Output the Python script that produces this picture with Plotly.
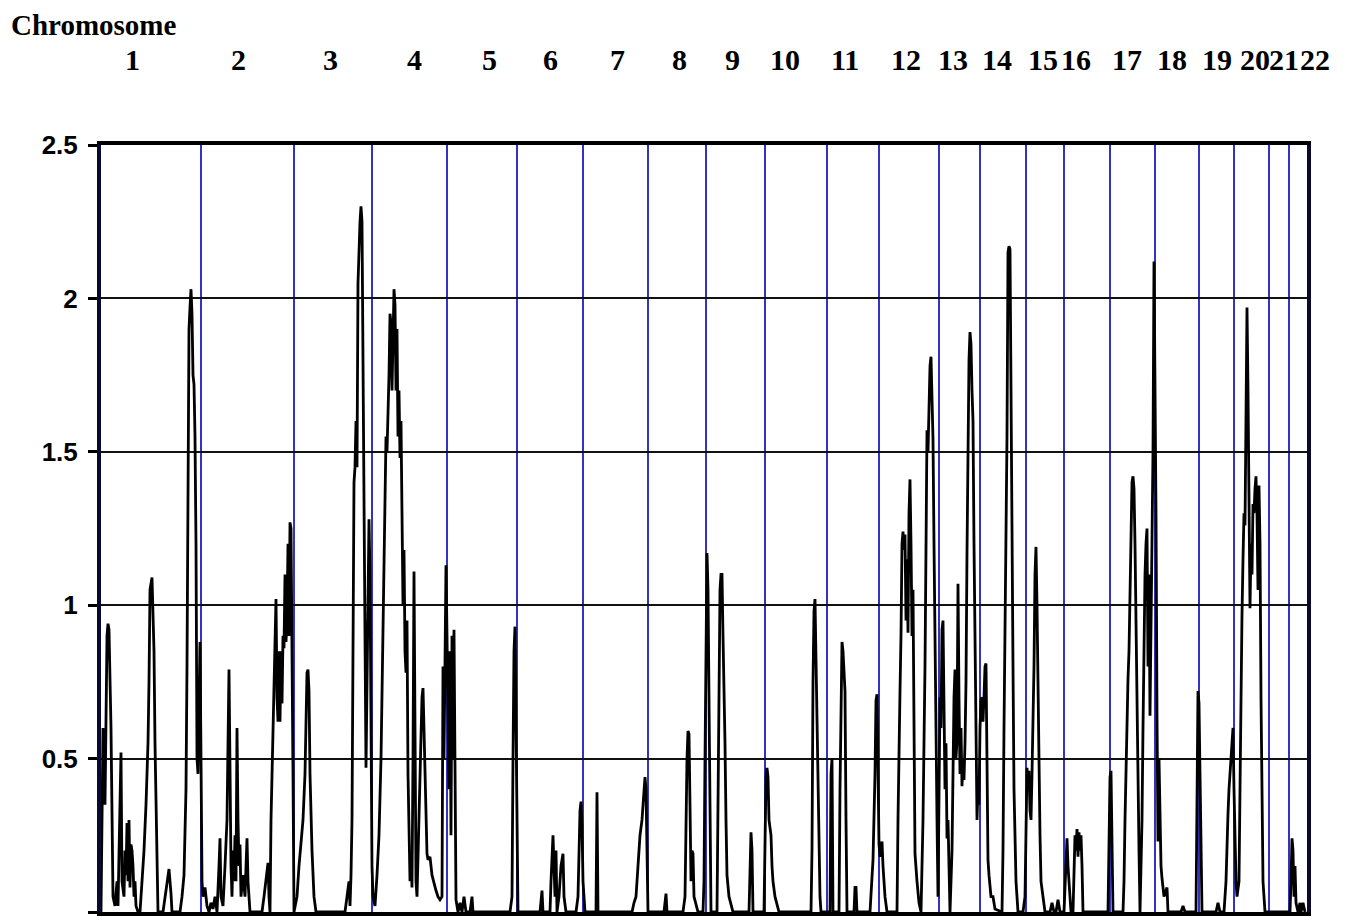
import plotly.graph_objects as go

# ---------------- data ----------------
chromosomes = [str(i) for i in range(1, 23)]
# label centres along the genome axis (cM-like units)
label_pos = [31, 137, 229, 313, 388, 449, 516, 578, 631, 684, 744, 805, 852, 896,
             942, 975, 1026, 1071, 1116, 1154, 1183, 1214]
# chromosome boundaries (blue lines)
boundaries = [100, 193, 271, 345.5, 416, 482, 547, 605, 664, 726, 777.5, 837.5,
              879, 925, 963, 1009, 1054, 1098, 1133, 1168, 1187.5]
genome_end = 1206

position = [
    # chr1
    0, 1, 2, 4, 6, 7, 8, 10, 11, 12, 14, 16, 17, 19, 20, 21, 23, 24, 25, 26,
    27, 28, 29, 30, 31, 32, 33, 34, 35, 37, 39, 41, 43, 45, 47, 48, 49, 51, 52, 53,
    54, 55, 56, 57, 62, 64, 66, 68, 70, 71, 79, 81, 83, 85, 86, 87, 88, 89, 90, 91,
    92, 93, 94, 95, 96, 97, 98, 99, 100,
    # chr2
    101, 102, 104, 106, 108, 110, 112, 114, 116, 118, 119, 120, 122, 124, 126, 128, 129, 130, 131, 132,
    133, 134, 135, 136, 137, 138, 139, 140, 142, 144, 146, 147, 149, 161, 163, 165, 167, 168, 169, 170,
    172, 174, 175, 176, 177, 178, 179, 180, 181, 182, 183, 184, 185, 186, 187, 188, 189, 190, 191, 192,
    193,
    # chr3
    196, 198, 200, 202, 204, 205, 206, 207, 208, 209, 211, 213, 215, 244, 246, 248, 249, 250, 251, 252,
    253, 254, 255, 256, 257, 259, 260, 261, 262, 263, 264, 265, 266, 267, 268, 269, 270, 271,
    # chr4
    272, 274, 276, 278, 280, 282, 284, 285, 286, 287, 288, 289, 290, 291, 292, 293, 294, 295, 296, 297,
    298, 299, 300, 301, 302, 303, 304, 305, 306, 307, 308, 309, 310, 311, 312, 313, 314, 315, 316, 317,
    318, 319, 320, 321, 322, 323, 324, 325, 326, 327, 329, 331, 333, 335, 337, 339, 341, 342, 343, 344,
    345,
    # chr5
    346, 347, 348, 349, 350, 351, 352, 353, 354, 355, 357, 359, 361, 363, 365, 369, 371, 372, 409, 411,
    412, 413, 414, 415, 416,
    # chr6
    417, 439, 441, 442, 449, 450, 451, 452, 453, 454, 455, 456, 458, 460, 462, 463, 465, 475, 477, 478,
    479, 480, 481, 482,
    # chr7
    483, 484, 495, 496, 497, 531, 533, 535, 537, 539, 541, 543, 544, 545, 546, 547,
    # chr8
    563, 565, 566, 582, 584, 585, 586, 587, 588, 589, 590, 591, 592, 593, 595, 597, 602, 603, 604, 605,
    # chr9
    606, 607, 608, 609, 610, 616, 617, 618, 619, 620, 621, 622, 623, 624, 625, 626, 628, 630, 632, 648,
    649, 650, 651, 652, 663, 664,
    # chr10
    665, 666, 667, 668, 670, 671, 672, 674, 676, 678, 710, 711, 712, 713, 714, 715, 716, 717, 718, 719,
    720,
    # chr11
    729, 730, 731, 732, 738, 739, 740, 741, 742, 743, 744, 745, 746, 753, 754, 755, 756, 769, 771, 772,
    774, 775, 776, 777,
    # chr12
    778, 779, 780, 781, 782, 784, 786, 796, 797, 798, 799, 800, 801, 802, 803, 804, 805, 806, 807, 808,
    809, 810, 811, 812, 813, 814, 816, 818, 820, 822, 824, 825, 826, 827, 828, 829, 830, 831, 832, 833,
    834, 835, 836, 837,
    # chr13
    838, 839, 840, 841, 842, 843, 844, 845, 846, 847, 848, 849, 851, 852, 853, 854, 855, 856, 857, 858,
    859, 860, 861, 862, 863, 864, 865, 866, 867, 868, 869, 870, 871, 872, 873, 874, 875, 876, 877, 878,
    879,
    # chr14
    880, 881, 882, 883, 884, 885, 886, 887, 888, 890, 892, 894, 901, 902, 903, 904, 905, 906, 907, 908,
    909, 910, 911, 912, 913, 914, 915, 917, 922, 924, 925,
    # chr15
    926, 927, 928, 929, 930, 931, 932, 933, 934, 935, 936, 937, 938, 939, 940, 942, 944, 949, 951, 953,
    955, 957, 959, 963,
    # chr16
    964, 965, 966, 967, 968, 969, 970, 972, 973, 974, 975, 976, 977, 978, 979, 980, 981, 982, 1007, 1008,
    1009,
    # chr17
    1010, 1011, 1012, 1022, 1023, 1024, 1025, 1026, 1027, 1028, 1029, 1030, 1031, 1032, 1033, 1034, 1035, 1036, 1037, 1038,
    1039, 1041, 1042, 1043, 1044, 1045, 1046, 1047, 1048, 1049, 1050, 1051, 1052, 1053, 1054,
    # chr18
    1055, 1056, 1057, 1058, 1059, 1060, 1061, 1063, 1065, 1066, 1067, 1080, 1082, 1084, 1095, 1096, 1097, 1098,
    # chr19
    1099, 1100, 1101, 1115, 1117, 1119, 1123, 1125, 1126, 1127, 1128, 1129, 1130, 1131, 1132, 1133,
    # chr20
    1134, 1135, 1136, 1138, 1139, 1140, 1141, 1142, 1143, 1144, 1145, 1146, 1147, 1148, 1149, 1150, 1151, 1152, 1153, 1154,
    1155, 1156, 1157, 1158, 1159, 1160, 1161, 1162, 1164,
    # chr21
    1175,
    # chr22
    1189, 1190, 1191, 1192, 1193, 1194, 1195, 1197, 1199, 1200, 1202, 1204,
]

lod = [
    # chr1
    0.0, 0.3, 0.6, 0.35, 0.9, 0.94, 0.92, 0.6, 0.3, 0.05, 0.02, 0.1, 0.02, 0.3, 0.52, 0.1, 0.05, 0.2, 0.12, 0.29,
    0.1, 0.3, 0.08, 0.22, 0.2, 0.15, 0.05, 0.1, 0.02, 0.0, 0.0, 0.1, 0.2, 0.35, 0.55, 0.75, 1.05, 1.09, 1.0, 0.85,
    0.55, 0.35, 0.15, 0.0, 0.0, 0.05, 0.1, 0.14, 0.06, 0.0, 0.0, 0.05, 0.12, 0.4, 0.8, 1.3, 1.9, 1.97, 2.03, 1.95,
    1.75, 1.72, 1.55, 1.2, 0.5, 0.45, 0.7, 0.88, 0.5,
    # chr2
    0.1, 0.05, 0.08, 0.02, 0.0, 0.03, 0.01, 0.05, 0.0, 0.15, 0.24, 0.05, 0.02, 0.15, 0.3, 0.79, 0.3, 0.15, 0.05, 0.2,
    0.1, 0.25, 0.1, 0.6, 0.3, 0.15, 0.22, 0.05, 0.12, 0.05, 0.24, 0.1, 0.0, 0.0, 0.05, 0.1, 0.16, 0.05, 0.0, 0.3,
    0.62, 0.95, 1.02, 0.7, 0.62, 0.85, 0.62, 0.85, 0.68, 0.9, 0.86, 1.1, 0.88, 0.95, 1.2, 0.9, 1.27, 1.25, 0.92, 0.45,
    0.0,
    # chr3
    0.05, 0.15, 0.22, 0.3, 0.45, 0.6, 0.78, 0.79, 0.72, 0.45, 0.2, 0.05, 0.0, 0.0, 0.05, 0.1, 0.02, 0.12, 0.3, 0.75,
    1.4, 1.45, 1.6, 1.45, 2.05, 2.25, 2.3, 2.25, 1.7, 1.2, 0.9, 0.47, 0.8, 1.05, 1.28, 1.1, 0.5, 0.15,
    # chr4
    0.05, 0.02, 0.12, 0.25, 0.5, 0.9, 1.3, 1.55, 1.5, 1.6, 1.75, 1.95, 1.92, 1.7, 1.95, 2.03, 1.98, 1.7, 1.9, 1.55,
    1.7, 1.48, 1.6, 1.15, 1.0, 1.18, 0.85, 0.78, 0.95, 0.45, 0.3, 0.1, 0.2, 0.08, 0.5, 1.11, 0.6, 0.1, 0.05, 0.2,
    0.35, 0.5, 0.55, 0.7, 0.73, 0.6, 0.4, 0.25, 0.19, 0.17, 0.18, 0.12, 0.09, 0.07, 0.05, 0.04, 0.05, 0.8, 0.5, 0.85,
    1.13,
    # chr5
    0.9, 0.55, 0.4, 0.85, 0.25, 0.9, 0.5, 0.92, 0.3, 0.04, 0.0, 0.03, 0.0, 0.05, 0.0, 0.0, 0.05, 0.0, 0.0, 0.05,
    0.5, 0.85, 0.93, 0.6, 0.1,
    # chr6
    0.0, 0.0, 0.07, 0.0, 0.0, 0.1, 0.22, 0.25, 0.15, 0.05, 0.2, 0.0, 0.05, 0.15, 0.19, 0.05, 0.0, 0.0, 0.05, 0.2,
    0.33, 0.36, 0.28, 0.1,
    # chr7
    0.05, 0.0, 0.0, 0.39, 0.0, 0.0, 0.03, 0.05, 0.15, 0.25, 0.3, 0.4, 0.44, 0.4, 0.2, 0.0,
    # chr8
    0.0, 0.06, 0.0, 0.0, 0.05, 0.3, 0.5, 0.59, 0.58, 0.35, 0.1, 0.2, 0.19, 0.05, 0.02, 0.0, 0.0, 0.1, 0.5, 0.9,
    # chr9
    1.17, 1.05, 0.75, 0.3, 0.0, 0.0, 0.3, 0.8, 1.05, 1.1, 1.1, 0.9, 0.75, 0.55, 0.3, 0.12, 0.05, 0.02, 0.0, 0.0,
    0.15, 0.26, 0.2, 0.0, 0.0, 0.3,
    # chr10
    0.44, 0.47, 0.44, 0.3, 0.25, 0.15, 0.1, 0.05, 0.02, 0.0, 0.0, 0.2, 0.75, 0.98, 1.02, 0.8, 0.6, 0.45, 0.2, 0.05,
    0.0,
    # chr11
    0.0, 0.45, 0.5, 0.0, 0.0, 0.4, 0.78, 0.88, 0.85, 0.75, 0.72, 0.3, 0.0, 0.0, 0.08, 0.08, 0.0, 0.0, 0.1, 0.17,
    0.45, 0.69, 0.71, 0.5,
    # chr12
    0.22, 0.18, 0.22, 0.23, 0.15, 0.05, 0.0, 0.0, 0.3, 0.6, 0.72, 0.9, 1.2, 1.24, 1.18, 1.23, 0.95, 1.15, 0.91, 1.3,
    1.41, 1.2, 0.9, 1.05, 0.5, 0.19, 0.1, 0.03, 0.0, 0.3, 0.8, 1.3, 1.57, 1.5, 1.7, 1.78, 1.81, 1.7, 1.54, 1.2,
    0.8, 0.5, 0.3, 0.05,
    # chr13
    0.4, 0.7, 0.6, 0.92, 0.95, 0.6, 0.4, 0.55, 0.24, 0.3, 0.1, 0.0, 0.2, 0.6, 0.7, 0.79, 0.5, 0.56, 1.07, 0.7,
    0.45, 0.6, 0.41, 0.5, 0.43, 0.55, 0.75, 1.17, 1.5, 1.8, 1.89, 1.85, 1.7, 1.6, 1.2, 0.89, 0.55, 0.3, 0.4, 0.35,
    0.6,
    # chr14
    0.69, 0.7, 0.62, 0.7, 0.8, 0.81, 0.4, 0.17, 0.12, 0.05, 0.05, 0.01, 0.0, 0.2, 0.6, 0.91, 1.3, 1.55, 2.15, 2.17,
    2.16, 1.6, 1.23, 0.8, 0.4, 0.2, 0.1, 0.0, 0.0, 0.05, 0.3,
    # chr15
    0.47, 0.4, 0.46, 0.33, 0.3, 0.45, 0.58, 0.8, 1.1, 1.19, 1.0, 0.72, 0.45, 0.25, 0.1, 0.05, 0.0, 0.0, 0.03, 0.0,
    0.0, 0.04, 0.0, 0.0,
    # chr16
    0.1, 0.2, 0.24, 0.15, 0.1, 0.05, 0.0, 0.0, 0.15, 0.25, 0.2, 0.27, 0.18, 0.26, 0.2, 0.25, 0.15, 0.0, 0.0, 0.2,
    0.44,
    # chr17
    0.46, 0.2, 0.0, 0.0, 0.1, 0.3, 0.5, 0.7, 0.76, 0.85, 1.0, 1.2, 1.4, 1.42, 1.38, 1.2, 0.9, 0.79, 0.5, 0.2,
    0.0, 0.3, 0.6, 0.9, 1.1, 1.2, 1.25, 0.8, 1.1, 0.64, 0.9, 1.25, 1.5, 2.12, 1.8,
    # chr18
    1.3, 0.64, 0.23, 0.5, 0.3, 0.15, 0.11, 0.05, 0.07, 0.08, 0.0, 0.0, 0.02, 0.0, 0.0, 0.4, 0.72, 0.68,
    # chr19
    0.4, 0.1, 0.0, 0.0, 0.03, 0.0, 0.0, 0.1, 0.25, 0.32, 0.4, 0.45, 0.5, 0.55, 0.6, 0.4,
    # chr20
    0.2, 0.1, 0.05, 0.1, 0.4, 0.8, 0.97, 1.15, 1.3, 1.26, 1.6, 1.97, 1.7, 1.2, 0.99, 1.2, 1.1, 1.33, 1.3, 1.38,
    1.42, 1.3, 1.05, 1.39, 1.2, 0.7, 0.23, 0.1, 0.0,
    # chr21
    0.0,
    # chr22
    0.0, 0.1, 0.24, 0.2, 0.05, 0.15, 0.03, 0.0, 0.03, 0.0, 0.03, 0.0,
]
assert len(position) == len(lod), (len(position), len(lod))

y_ticks = [0, 0.5, 1, 1.5, 2, 2.5]
y_ticktext = ["0", "0.5", "1", "1.5", "2", "2.5"]

# ---------------- figure ----------------
fig = go.Figure()
fig.add_trace(go.Scatter(
    x=position, y=lod, mode="lines",
    line=dict(color="black", width=2.8),
    showlegend=False, hoverinfo="skip",
))

serif = "Liberation Serif, Times New Roman, serif"
annotations = [dict(
    text="Chromosome", xref="paper", yref="paper", x=-0.0755, y=904 / 767,
    xanchor="left", yanchor="top", showarrow=False, borderpad=0,
    font=dict(family=serif, size=29, color="black", weight="bold"),
)]
for name, p in zip(chromosomes, label_pos):
    annotations.append(dict(
        text=name, xref="paper", yref="paper", x=p / genome_end, y=1.1115,
        xanchor="center", yanchor="middle", showarrow=False, borderpad=0,
        font=dict(family=serif, size=30, color="black", weight="bold"),
    ))

# the page body adds an 8 px offset; the figure is sized to compensate
fig.update_layout(
    width=1342, height=908,
    margin=dict(l=93, r=43, t=137, b=4),
    paper_bgcolor="white", plot_bgcolor="white",
    annotations=annotations,
    xaxis=dict(
        range=[0, genome_end], tickvals=boundaries, showticklabels=False,
        ticks="", showgrid=True, gridcolor="#3232c4", gridwidth=1.6,
        zeroline=False, showline=True, linecolor="black", linewidth=4, mirror=True,
    ),
    yaxis=dict(
        range=[0, 2.5], tickvals=y_ticks, ticktext=y_ticktext,
        ticks="outside", ticklen=9, tickwidth=3, tickcolor="black",
        ticklabelstandoff=5,
        tickfont=dict(family="Liberation Sans, Arial, sans-serif", size=26,
                      color="black", weight="bold"),
        showgrid=True, gridcolor="#111111", gridwidth=1.5,
        zeroline=False, showline=True, linecolor="#0a0a30", linewidth=4, mirror=True,
    ),
)

fig.write_html("out.html")
